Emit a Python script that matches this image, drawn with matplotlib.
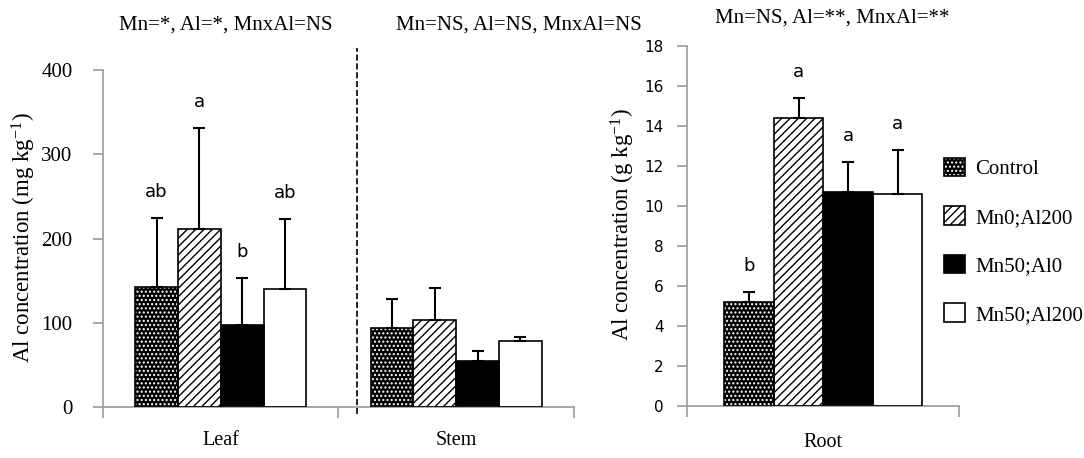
import matplotlib
matplotlib.use("Agg")
import matplotlib.pyplot as plt
from matplotlib.patches import Patch
import numpy as np

plt.rcParams["mathtext.fontset"] = "custom"
plt.rcParams["mathtext.rm"] = "Liberation Serif"
plt.rcParams["mathtext.it"] = "Liberation Serif:italic"

# treatments and styles
treatments = ["Control", "Mn0;Al200", "Mn50;Al0", "Mn50;Al200"]

# leaf / stem (mg kg-1)
organs_left = ["Leaf", "Stem"]
leaf_mean = [142, 211, 97, 140]
leaf_err = [82, 120, 56, 83]
stem_mean = [94, 104, 55, 79]
stem_err = [34, 37, 12, 4]
leaf_letters = ["ab", "a", "b", "ab"]
stem_letters = ["", "", "", ""]

# root (g kg-1)
organs_right = ["Root"]
root_mean = [5.2, 14.4, 10.7, 10.6]
root_err = [0.5, 1.0, 1.5, 2.2]
root_letters = ["b", "a", "a", "a"]

titles = ["Mn=*, Al=*, MnxAl=NS", "Mn=NS, Al=NS, MnxAl=NS", "Mn=NS, Al=**, MnxAl=**"]

serif = "Liberation Serif"
sans = "DejaVu Sans"
axis_gray = "#9a9a9a"

# face, hatch colour, hatch
styles = [("black", "white", "...."),
          ("white", "black", "////"),
          ("black", "black", None),
          ("white", "black", None)]

fig = plt.figure(figsize=(10.84, 4.58), dpi=100)
ax1 = fig.add_axes([0.095, 0.111, 0.4345, 0.736])
ax2 = fig.add_axes([0.634, 0.1135, 0.251, 0.786])

bw = 1 / 5.5


def draw_group(ax, means_by_cat, errs_by_cat, letters_by_cat):
    ncat = len(means_by_cat)
    for c in range(ncat):
        for i in range(4):
            x = c + 0.5 + (i - 1.5) * bw
            m = means_by_cat[c][i]
            e = errs_by_cat[c][i]
            face, hc, hatch = styles[i]
            ax.bar(x, m, bw, color=face, edgecolor=hc, hatch=hatch, linewidth=0, zorder=2)
            ax.bar(x, m, bw, fill=False, edgecolor="black", linewidth=1.2, zorder=3)
            ax.errorbar(x, m, yerr=[[0], [e]], fmt="none", ecolor="black",
                        elinewidth=1.5, capsize=4, capthick=1.5, zorder=4)
            lab = letters_by_cat[c][i]
            if lab:
                ax.annotate(lab, (x, m + e), xytext=(0, 19), textcoords="offset points",
                            ha="center", va="center", fontsize=13, family=sans)
    ax.set_xlim(0, ncat)
    ax.set_xticks(np.arange(ncat + 1))
    ax.set_xticklabels([])
    ax.tick_params(axis="x", which="major", direction="out", length=8, color=axis_gray, width=1.2)
    for s in ["top", "right"]:
        ax.spines[s].set_visible(False)
    for s in ["left", "bottom"]:
        ax.spines[s].set_color(axis_gray)
        ax.spines[s].set_linewidth(1.2)
    ax.tick_params(axis="y", direction="out", length=7, color=axis_gray, width=1.2)


draw_group(ax1, [leaf_mean, stem_mean], [leaf_err, stem_err], [leaf_letters, stem_letters])
draw_group(ax2, [root_mean], [root_err], [root_letters])

ax1.set_ylim(0, 400)
ax1.set_yticks([0, 100, 200, 300, 400])
ax1.tick_params(axis="y", pad=15, labelsize=15)
for t in ax1.get_yticklabels():
    t.set_family(serif)

ax2.set_ylim(0, 18)
ax2.set_yticks(np.arange(0, 19, 2))
ax2.tick_params(axis="y", pad=10, labelsize=11)
for t in ax2.get_yticklabels():
    t.set_family(sans)

for ax, names in [(ax1, organs_left), (ax2, organs_right)]:
    for c, name in enumerate(names):
        ax.text(c + 0.5, -0.1, name, transform=ax.get_xaxis_transform(),
                ha="center", va="center", fontsize=14.5, family=serif)

# separator between leaf and stem
ax1.axvline(1.08, ymin=-0.02, ymax=1.065, color="black", linestyle="--",
            linewidth=1.2, clip_on=False)

fig.text(24 / 1084, 1 - 238 / 458, "Al concentration (mg kg$^{-1}$)", rotation=90,
         ha="center", va="center", fontsize=16.5, family=serif)
fig.text(623 / 1084, 1 - 225 / 458, "Al concentration (g kg$^{-1}$)", rotation=90,
         ha="center", va="center", fontsize=16.5, family=serif)

for (tx, ty), t in zip([(226, 25), (519, 25), (832, 18)], titles):
    fig.text(tx / 1084, 1 - ty / 458, t, ha="center", va="center", fontsize=15, family=serif)

handles = []
for face, hc, hatch in styles:
    handles.append((Patch(facecolor=face, edgecolor=hc, hatch=hatch, linewidth=0),
                    Patch(fill=False, edgecolor="black", linewidth=1.2)))
fig.legend(handles, treatments, loc="upper left", bbox_to_anchor=(925 / 1084, 1 - 139 / 458),
           frameon=False, prop={"family": serif, "size": 15}, handlelength=1.0,
           handleheight=1.0, labelspacing=1.3, handletextpad=0.5)

fig.savefig("out.png", dpi=100)
